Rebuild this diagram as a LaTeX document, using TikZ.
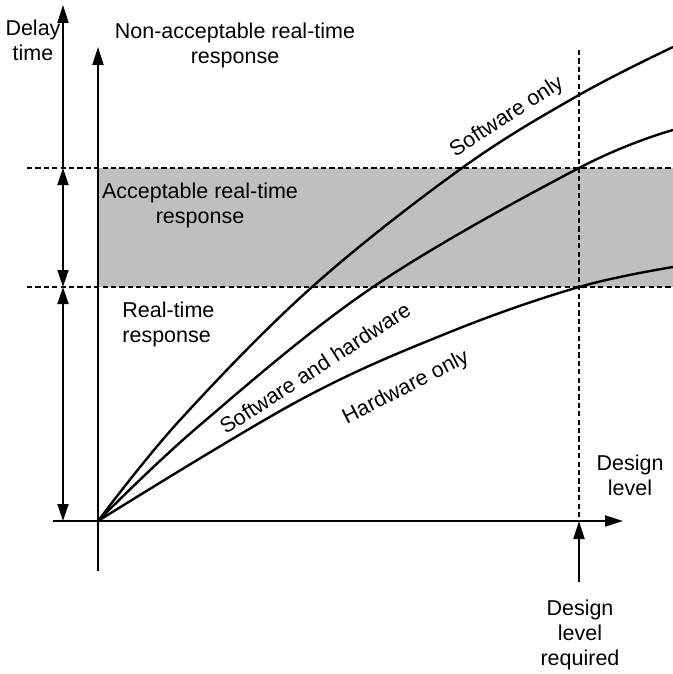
\documentclass[tikz,border=0pt]{standalone}
\usepackage{fontspec}
\setmainfont{Liberation Sans}
\usetikzlibrary{arrows.meta}

\begin{document}
\begin{tikzpicture}[x=0.5pt, y=-0.5pt]
	\tikzstyle{axis}  = [line width=1pt, -{Triangle[length=9pt, width=5.5pt]}]
	\tikzstyle{span}  = [line width=0.9pt, {Triangle[length=8.5pt, width=5.5pt]}-{Triangle[length=8.5pt, width=5.5pt]}]
	\tikzstyle{limit} = [line width=0.9pt, dash pattern=on 2.6pt off 1.6pt]
	\tikzstyle{curve} = [line width=1.2pt]
	\tikzstyle{label} = [align=center, inner sep=0pt, font=\fontsize{10.75}{12.5}\selectfont]

	\useasboundingbox (0,0) rectangle (673,674);

%	\draw[step=50, gray!50] (0,0) grid (673,674);

	% acceptable band
	\fill[black!25] (98,168) rectangle (673,287);

	\coordinate (O) at (98,521);
	\coordinate (ytop) at (98,47);
	\coordinate (ybot) at (98,571);
	\coordinate (xleft) at (53,521);
	\coordinate (xright) at (623,521);
	\coordinate (req) at (579,521);
	\coordinate (reqtop) at (579,50);
	\coordinate (reqbot) at (579,582);

	\foreach \name/\y in {top/5, hi/168, lo/287, base/521}
		\coordinate (\name) at (63,\y);

	\foreach \name/\y in {hi/168, lo/287} {
		\coordinate (\name L) at (27,\y);
		\coordinate (\name R) at (673,\y);
		\draw[limit] (\name L) -- (\name R);
	}

	\draw[limit] (reqtop) -- (req);

	\draw[axis] (ybot) -- (ytop);
	\draw[axis] (xleft) -- (xright);
	\draw[axis] (reqbot) -- (req);
	\draw[axis] (hi) -- (top);

	\foreach \from/\to in {hi/lo, lo/base}
		\draw[span] (\from) -- (\to);

	% curves
	\draw[curve] plot[smooth, tension=0.6] coordinates {(O) (180,420) (312,287) (462,168) (579,95) (673,47)};
	\draw[curve] plot[smooth, tension=0.6] coordinates {(O) (200,425) (373,287) (579,168) (673,130)};
	\draw[curve] plot[smooth, tension=0.6] coordinates {(O) (300,400) (450,332) (579,287) (673,267)};

	\node[label, rotate=33] (swonly) at (507,117) {Software only};
	\node[label, rotate=33] (swhw) at (315,368) {Software and hardware};
	\node[label, rotate=27] (hwonly) at (406,388) {Hardware only};

	\node[label] (delay) at (33,40) {Delay\\time};
	\node[label] (nonacc) at (235,45) {Non-acceptable real-time\\response};
	\node[label] (acc) at (200,205) {Acceptable real-time\\response};
	\node[label, align=left, anchor=west] (rt) at (122,324) {Real-time\\response};
	\node[label] (dlevel) at (630,475) {Design\\level};
	\node[label] (dreq) at (580,635) {Design\\level\\required};

\end{tikzpicture}
\end{document}
